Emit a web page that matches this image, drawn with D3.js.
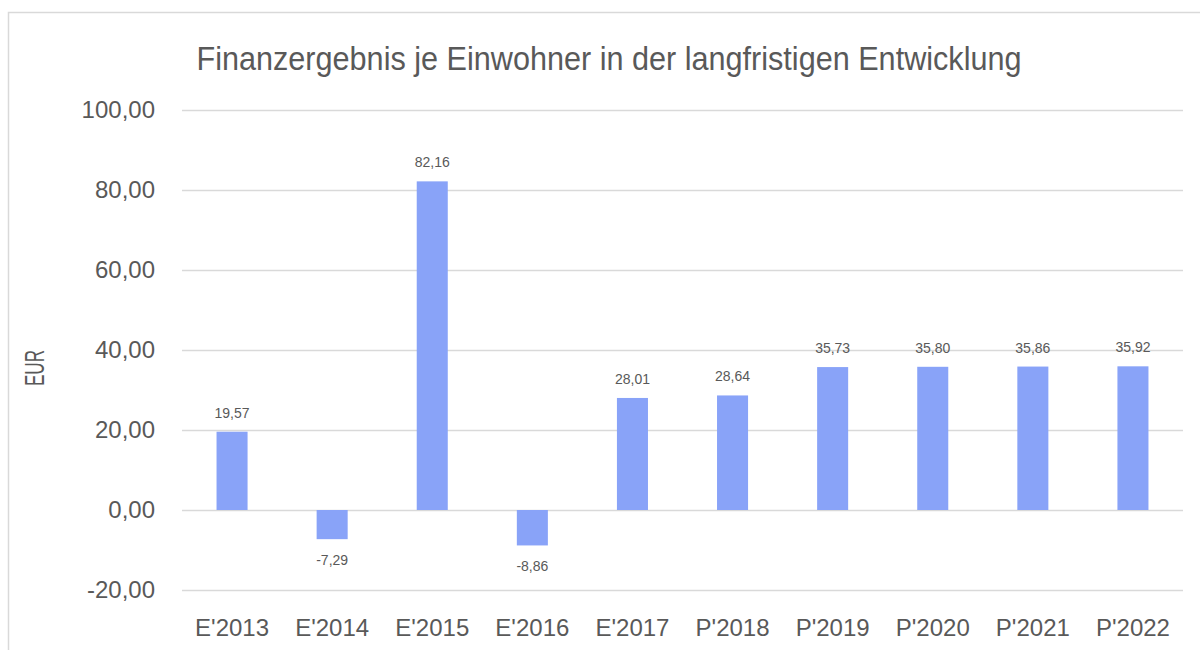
<!DOCTYPE html>
<html>
<head>
<meta charset="utf-8">
<script src="https://cdn.jsdelivr.net/npm/d3@7"></script>
<style>
  body { margin: 0; background: #fff; }
  text { font-family: "Liberation Sans Narrow", "Arial Narrow", "Liberation Sans", sans-serif; fill: #595959; }
</style>
</head>
<body>
<svg id="chart"></svg>
<script>
// Data
const categories = ["E'2013", "E'2014", "E'2015", "E'2016", "E'2017", "P'2018", "P'2019", "P'2020", "P'2021", "P'2022"];
const values = [19.57, -7.29, 82.16, -8.86, 28.01, 28.64, 35.73, 35.80, 35.86, 35.92];
const yTicks = [-20, 0, 20, 40, 60, 80, 100];
const title = "Finanzergebnis je Einwohner in der langfristigen Entwicklung";

const width = 1200;
const height = 650;
const margin = { top: 110, right: 17, bottom: 60, left: 182 };

const svg = d3.select("#chart")
    .attr("width", width)
    .attr("height", height);

// chart frame (only top and left edges are inside the picture)
svg.append("path")
    .attr("d", `M8.5,${height} V12.5 H${width}`)
    .attr("fill", "none")
    .attr("stroke", "#d9d9d9")
    .attr("stroke-width", 1.5);

const fmt = v => d3.format(".2f")(v).replace(".", ",").replace("\u2212", "-");

const x = d3.scaleBand()
    .domain(categories)
    .range([margin.left, width - margin.right])
    .paddingInner(0.69)
    .paddingOuter(0.345);

const y = d3.scaleLinear()
    .domain([-20, 100])
    .range([height - margin.bottom, margin.top]);

// gridlines + y tick labels
const yAxis = svg.append("g")
    .attr("transform", `translate(${margin.left},0)`)
    .call(d3.axisLeft(y).tickValues(yTicks).tickSize(-(width - margin.right - margin.left)).tickPadding(27).tickFormat(fmt));
yAxis.select(".domain").remove();
yAxis.selectAll(".tick line").attr("stroke", "#d9d9d9").attr("stroke-width", 1.5);
yAxis.selectAll(".tick text").style("font-size", "24px").style("fill", "#595959");

// x labels
const xAxis = svg.append("g")
    .attr("transform", `translate(0,${height - margin.bottom})`)
    .call(d3.axisBottom(x).tickSize(0).tickPadding(29));
xAxis.select(".domain").remove();
xAxis.selectAll(".tick text").style("font-size", "24px").style("fill", "#595959");

// bars
const data = categories.map((c, i) => ({ cat: c, val: values[i] }));
svg.selectAll(".bar")
    .data(data)
    .enter()
    .append("rect")
    .attr("class", "bar")
    .attr("x", d => x(d.cat))
    .attr("y", d => y(Math.max(0, d.val)))
    .attr("width", x.bandwidth())
    .attr("height", d => Math.abs(y(d.val) - y(0)))
    .attr("fill", "#89a3f8");

// value labels
svg.selectAll(".label")
    .data(data)
    .enter()
    .append("text")
    .attr("x", d => x(d.cat) + x.bandwidth() / 2)
    .attr("y", d => d.val >= 0 ? y(d.val) - 14 : y(d.val) + 26)
    .attr("text-anchor", "middle")
    .style("font-size", "14px")
    .text(d => fmt(d.val));

// y axis title
svg.append("text")
    .attr("transform", `translate(44,368) rotate(-90)`)
    .attr("text-anchor", "middle")
    .attr("textLength", 36)
    .attr("lengthAdjust", "spacingAndGlyphs")
    .style("font-size", "27px")
    .text("EUR");

// title
svg.append("text")
    .attr("x", 609)
    .attr("y", 70)
    .attr("text-anchor", "middle")
    .attr("textLength", 825)
    .attr("lengthAdjust", "spacingAndGlyphs")
    .style("font-size", "33px")
    .text(title);
</script>
</body>
</html>
